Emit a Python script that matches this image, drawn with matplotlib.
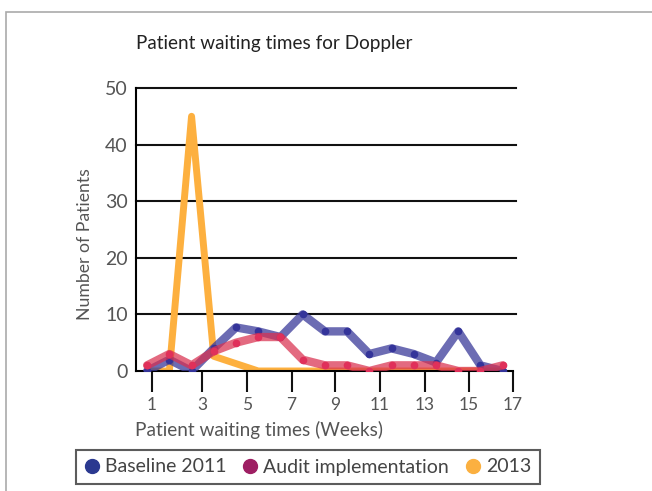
import numpy as np
import matplotlib
matplotlib.use('Agg')
import matplotlib.pyplot as plt
from matplotlib.lines import Line2D
from matplotlib.patches import Rectangle

# Data
weeks = list(range(1, 18))
baseline2011 = [0, 2, 0, 4, 7.7, 7, 6, 10, 7, 7, 3, 4, 3, 1.5, 7, 1, 0]
audit = [1, 3, 1, 3.5, 5, 6, 6, 2, 1, 1, 0, 1, 1, 1, 0, 0, 1]
y2013 = [0, 0, 45, 2.6, 1.3, 0, 0, 0, 0, 0, 0, 0, 0, 0, 0, 0, 0]
tick_labels = ['1', '3', '5', '7', '9', '11', '13', '15', '17']
tick_pos = [1.22, 3.48, 5.5, 7.5, 9.47, 11.48, 13.5, 15.47, 17.45]

plt.rcParams['font.family'] = ['Lato', 'DejaVu Sans']

fig = plt.figure(figsize=(6.52, 4.91), dpi=100)
ax = fig.add_axes([136/652, 1 - 371/491, 380/652, 283/491])

# Lines
ax.plot(weeks, y2013, color='#FDB03F', lw=5, solid_joinstyle='round',
        solid_capstyle='round', zorder=2)
ax.plot(weeks, baseline2011, color='#3B3B9A', alpha=0.75, lw=6,
        solid_joinstyle='round', solid_capstyle='round', zorder=3)
ax.plot(weeks, baseline2011, 'o', color='#34349a', ms=4.5, zorder=4)
ax.plot(weeks, audit, color='#D9304F', alpha=0.72, lw=6,
        solid_joinstyle='round', solid_capstyle='round', zorder=5)
ax.plot(weeks, audit, 'o', color='#E0305A', ms=4.5, zorder=6)

# Axes
ax.set_xlim(0.5, 17.6)
ax.set_ylim(0, 50)
for s in ['top', 'right']:
    ax.spines[s].set_visible(False)
ax.spines['left'].set_linewidth(1.5)
ax.spines['bottom'].set_linewidth(1.5)
ax.spines['bottom'].set_bounds(0.5, 17.45)
for yv in [10, 20, 30, 40, 50]:
    ax.axhline(yv, color='#111111', lw=1.5, zorder=1, clip_on=False)

ax.set_yticks([0, 10, 20, 30, 40, 50])
ax.tick_params(axis='y', length=0, pad=6, labelsize=14, labelcolor='#555555')
ax.set_xticks(tick_pos)
ax.set_xticklabels(tick_labels)
ax.tick_params(axis='x', length=15, width=1.5, pad=4, labelsize=12.5,
               labelcolor='#555555', color='#111111')

# Labels
fig.text(135/652, 1 - 430/491, 'Patient waiting times (Weeks)', fontsize=13.7,
         color='#555555', ha='left', va='center')
fig.text(85/652, 1 - 244/491, 'Number of Patients', fontsize=12.7,
         color='#555555', ha='center', va='center', rotation=90)
fig.text(136/652, 1 - 43/491, 'Patient waiting times for Doppler',
         fontsize=13.6, color='#222222', ha='left', va='center')

# Legend
handles = [Line2D([], [], ls='', marker='o', ms=10, color=c)
           for c in ['#2B3990', '#9E1F63', '#FBB040']]
leg = fig.legend(handles, ['Baseline 2011', 'Audit implementation', '2013'],
                 loc='center', bbox_to_anchor=(308/652, 1 - 467/491), ncol=3,
                 frameon=True, fancybox=False, edgecolor='#333333',
                 fontsize=14, handlelength=0.7, handletextpad=0.3,
                 columnspacing=0.9, borderpad=0.45)
leg.get_frame().set_linewidth(1.5)
for t in leg.get_texts():
    t.set_color('#444444')

# Grey outer frame
fig.patches.append(Rectangle((6/652, -0.1), 1.2, 1.1 - 12/491,
                             transform=fig.transFigure, fill=False,
                             edgecolor='#AAAAAA', lw=1.2))

fig.savefig('out.png', dpi=100)
